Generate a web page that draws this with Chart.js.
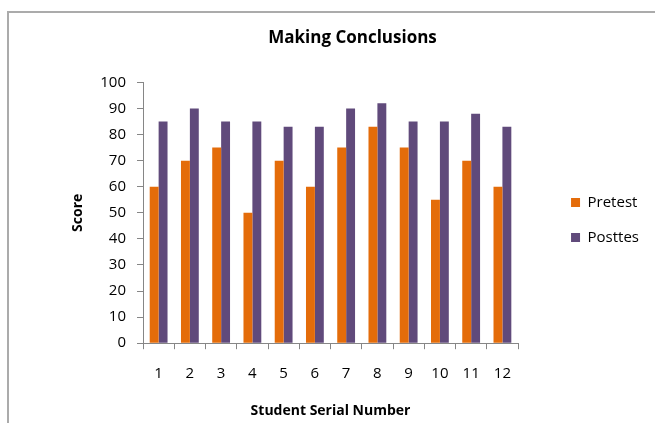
<!DOCTYPE html>
<html>
<head>
<meta charset="utf-8">
<script src="https://cdn.jsdelivr.net/npm/chart.js@4.4.0/dist/chart.umd.min.js"></script>
<style>
  html, body { margin: 0; padding: 0; background: #fff; overflow: hidden; }
  #frame { position: absolute; left: 7px; top: 11px; width: 660px; height: 420px;
           border-left: 2px solid #ababab; border-top: 2px solid #ababab; }
  #wrap { position: absolute; left: 0; top: 0; width: 655px; height: 423px; }
</style>
</head>
<body>
<div id="frame"></div>
<div id="wrap"><canvas id="chart" width="655" height="423"></canvas></div>
<script>
// Data
const students = ['1', '2', '3', '4', '5', '6', '7', '8', '9', '10', '11', '12'];
const pretest = [60, 70, 75, 50, 70, 60, 75, 83, 75, 55, 70, 60];
const posttest = [85, 90, 85, 85, 83, 83, 90, 92, 85, 85, 88, 83];
const seriesNames = ['Pretest', 'Posttes'];

const axisGray = '#868686';
const font = 'Open Sans';

const ctx = document.getElementById('chart').getContext('2d');
const chart = new Chart(ctx, {
    type: 'bar',
    data: {
        labels: students,
        datasets: [{
            label: seriesNames[0],
            data: pretest,
            backgroundColor: '#e46c0a',
            yAxisID: 'y',
            categoryPercentage: 0.57,
            barPercentage: 1.0
        }, {
            label: seriesNames[1],
            data: posttest,
            backgroundColor: '#604a7b',
            yAxisID: 'y',
            categoryPercentage: 0.57,
            barPercentage: 1.0
        }]
    },
    options: {
        responsive: false,
        animation: false,
        layout: { padding: { left: 56, right: 6, top: 0, bottom: 0 } },
        plugins: {
            title: {
                display: true,
                text: 'Making Conclusions',
                color: '#000',
                font: { family: font, size: 17, weight: 'bold' },
                padding: { top: 28, bottom: 34 }
            },
            legend: {
                position: 'right',
                title: { display: true, text: '', font: { size: 10 }, padding: { top: 5, bottom: 0 } },
                labels: {
                    boxWidth: 9,
                    boxHeight: 9,
                    padding: 20,
                    color: '#000',
                    font: { family: font, size: 15 }
                }
            },
            tooltip: { enabled: false }
        },
        scales: {
            x: {
                grid: { display: true, drawOnChartArea: false, drawTicks: true, tickLength: 6, color: axisGray },
                border: { display: true, color: axisGray },
                ticks: { color: '#000', padding: 16, font: { family: font, size: 15 } },
                title: {
                    display: true,
                    text: 'Student Serial Number',
                    color: '#000',
                    font: { family: font, size: 14, weight: 'bold' },
                    padding: { top: 3, bottom: 4 }
                }
            },
            y: {
                min: 0,
                max: 100,
                grid: { display: true, drawOnChartArea: false, drawTicks: true, tickLength: 6, color: axisGray },
                border: { display: true, color: axisGray },
                ticks: { stepSize: 10, color: '#000', padding: 11, font: { family: font, size: 15 } },
                title: {
                    display: true,
                    text: 'Score',
                    color: '#000',
                    font: { family: font, size: 14, weight: 'bold' },
                    padding: { top: 14, bottom: 4 }
                },
                afterFit: function(scale) { scale.width = 87; }
            },
            // empty spacer on the right, keeps the gap before the legend
            yR: {
                position: 'right',
                display: true,
                grid: { display: false },
                border: { display: false },
                ticks: { display: false },
                afterFit: function(scale) { scale.width = 33; }
            }
        }
    }
});
</script>
</body>
</html>
